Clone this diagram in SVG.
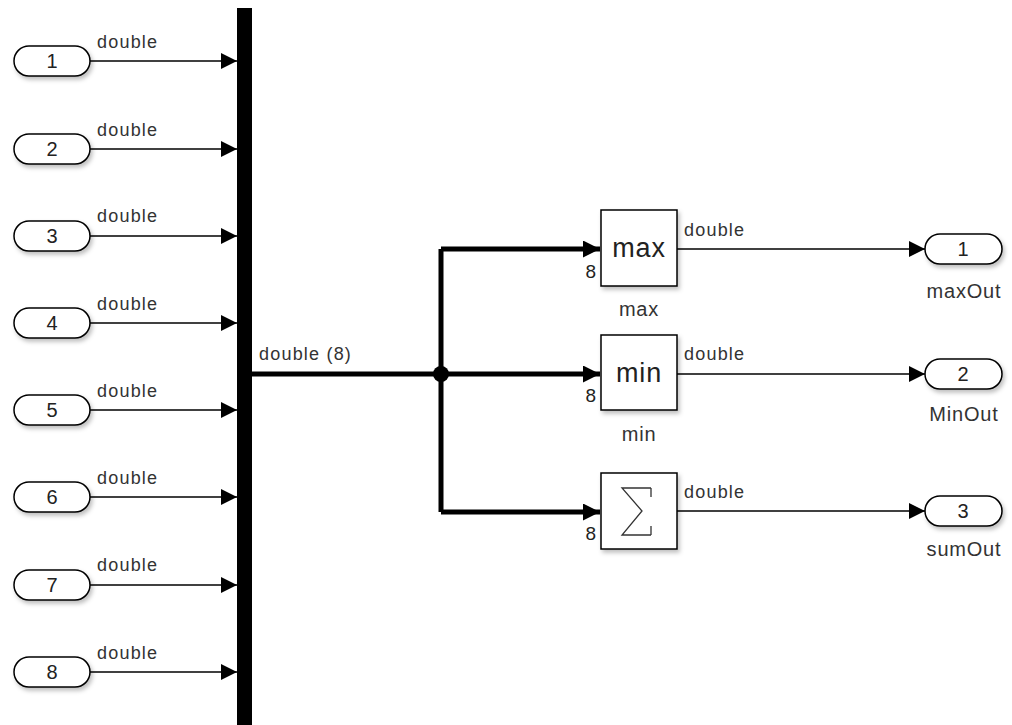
<svg xmlns="http://www.w3.org/2000/svg" width="1012" height="725" viewBox="0 0 1012 725">
<defs>
<filter id="sh" x="-20%" y="-20%" width="150%" height="160%"><feDropShadow dx="2" dy="3" stdDeviation="2" flood-color="#000" flood-opacity="0.25"/></filter>
<marker id="a" viewBox="0 0 10 10" refX="10" refY="5" markerWidth="16" markerHeight="16" markerUnits="userSpaceOnUse" orient="auto"><path d="M0,0 L10,5 L0,10 Z" fill="#000"/></marker>
<marker id="ab" viewBox="0 0 10 10" refX="10" refY="5" markerWidth="17" markerHeight="17" markerUnits="userSpaceOnUse" orient="auto"><path d="M0,0 L10,5 L0,10 Z" fill="#000"/></marker>
</defs>
<style>
text{font-family:"Liberation Sans",Arial,sans-serif;fill:#333}
.pill{fill:#fff;stroke:#000;stroke-width:1.5;filter:url(#sh)}
.blk{fill:#fff;stroke:#000;stroke-width:1.5;filter:url(#sh)}
.num{font-size:20px;text-anchor:middle;fill:#222}
.lbl{font-size:18px;letter-spacing:1.2px}
.sig{stroke:#000;stroke-width:1.5;fill:none}
.bus{stroke:#000;stroke-width:5;fill:none}
.blabel{font-size:20px;letter-spacing:0.8px;text-anchor:middle}
.big{font-size:27px;letter-spacing:0.8px;text-anchor:middle;fill:#222}
.port{font-size:19px;text-anchor:end;fill:#222}
</style>
<rect width="1012" height="725" fill="#fff"/>
<g id="connectors">
<path class="sig" d="M90,61 H237" marker-end="url(#a)"/>
<path class="sig" d="M90,149 H237" marker-end="url(#a)"/>
<path class="sig" d="M90,236 H237" marker-end="url(#a)"/>
<path class="sig" d="M90,323 H237" marker-end="url(#a)"/>
<path class="sig" d="M90,410 H237" marker-end="url(#a)"/>
<path class="sig" d="M90,497 H237" marker-end="url(#a)"/>
<path class="sig" d="M90,585 H237" marker-end="url(#a)"/>
<path class="sig" d="M90,672 H237" marker-end="url(#a)"/>
<text class="lbl" x="97" y="48">double</text>
<text class="lbl" x="97" y="136">double</text>
<text class="lbl" x="97" y="222">double</text>
<text class="lbl" x="97" y="310">double</text>
<text class="lbl" x="97" y="397">double</text>
<text class="lbl" x="97" y="484">double</text>
<text class="lbl" x="97" y="571">double</text>
<text class="lbl" x="97" y="659">double</text>
<path class="bus" d="M252,374 H441"/>
<path class="bus" d="M441,249 V512"/>
<path class="bus" d="M441,249 H600" marker-end="url(#ab)"/>
<path class="bus" d="M441,374 H600" marker-end="url(#ab)"/>
<path class="bus" d="M441,512 H600" marker-end="url(#ab)"/>
<circle cx="441" cy="374" r="8" fill="#000"/>
<text class="lbl" x="259" y="360">double (8)</text>
<path class="sig" d="M677,249 H925" marker-end="url(#a)"/>
<path class="sig" d="M677,374 H925" marker-end="url(#a)"/>
<path class="sig" d="M677,511 H925" marker-end="url(#a)"/>
<text class="lbl" x="684" y="236">double</text>
<text class="lbl" x="684" y="360">double</text>
<text class="lbl" x="684" y="498">double</text>
</g>
<g id="bus"><rect x="237" y="8" width="15" height="720" fill="#000"/></g>
<g id="in1"><rect class="pill" x="14" y="46" width="76" height="30" rx="15"/><text class="num" x="52" y="68">1</text></g>
<g id="in2"><rect class="pill" x="14" y="134" width="76" height="30" rx="15"/><text class="num" x="52" y="156">2</text></g>
<g id="in3"><rect class="pill" x="14" y="221" width="76" height="30" rx="15"/><text class="num" x="52" y="243">3</text></g>
<g id="in4"><rect class="pill" x="14" y="308" width="76" height="30" rx="15"/><text class="num" x="52" y="330">4</text></g>
<g id="in5"><rect class="pill" x="14" y="395" width="76" height="30" rx="15"/><text class="num" x="52" y="417">5</text></g>
<g id="in6"><rect class="pill" x="14" y="482" width="76" height="30" rx="15"/><text class="num" x="52" y="504">6</text></g>
<g id="in7"><rect class="pill" x="14" y="570" width="76" height="30" rx="15"/><text class="num" x="52" y="592">7</text></g>
<g id="in8"><rect class="pill" x="14" y="657" width="76" height="30" rx="15"/><text class="num" x="52" y="679">8</text></g>
<g id="max"><rect class="blk" x="601" y="210" width="76" height="76"/><text class="big" x="639" y="257">max</text><text class="port" x="596" y="278">8</text><text class="blabel" x="639" y="316">max</text></g>
<g id="min"><rect class="blk" x="601" y="335" width="76" height="75"/><text class="big" x="639" y="382">min</text><text class="port" x="596" y="402">8</text><text class="blabel" x="639" y="441">min</text></g>
<g id="sum"><rect class="blk" x="601" y="473" width="76" height="76"/><path d="M651,488 H622 L642,511 L622,535 H651" fill="none" stroke="#333" stroke-width="1.3"/><path d="M651,488 V497 M651,535 V526" fill="none" stroke="#333" stroke-width="1.3"/><text class="port" x="596" y="540">8</text></g>
<g id="out1"><rect class="pill" x="925" y="234" width="77" height="30" rx="15"/><text class="num" x="963" y="256">1</text><text class="blabel" x="964" y="298">maxOut</text></g>
<g id="out2"><rect class="pill" x="925" y="359" width="77" height="30" rx="15"/><text class="num" x="963" y="381">2</text><text class="blabel" x="964" y="421">MinOut</text></g>
<g id="out3"><rect class="pill" x="925" y="496" width="77" height="30" rx="15"/><text class="num" x="963" y="518">3</text><text class="blabel" x="964" y="556">sumOut</text></g>
</svg>
